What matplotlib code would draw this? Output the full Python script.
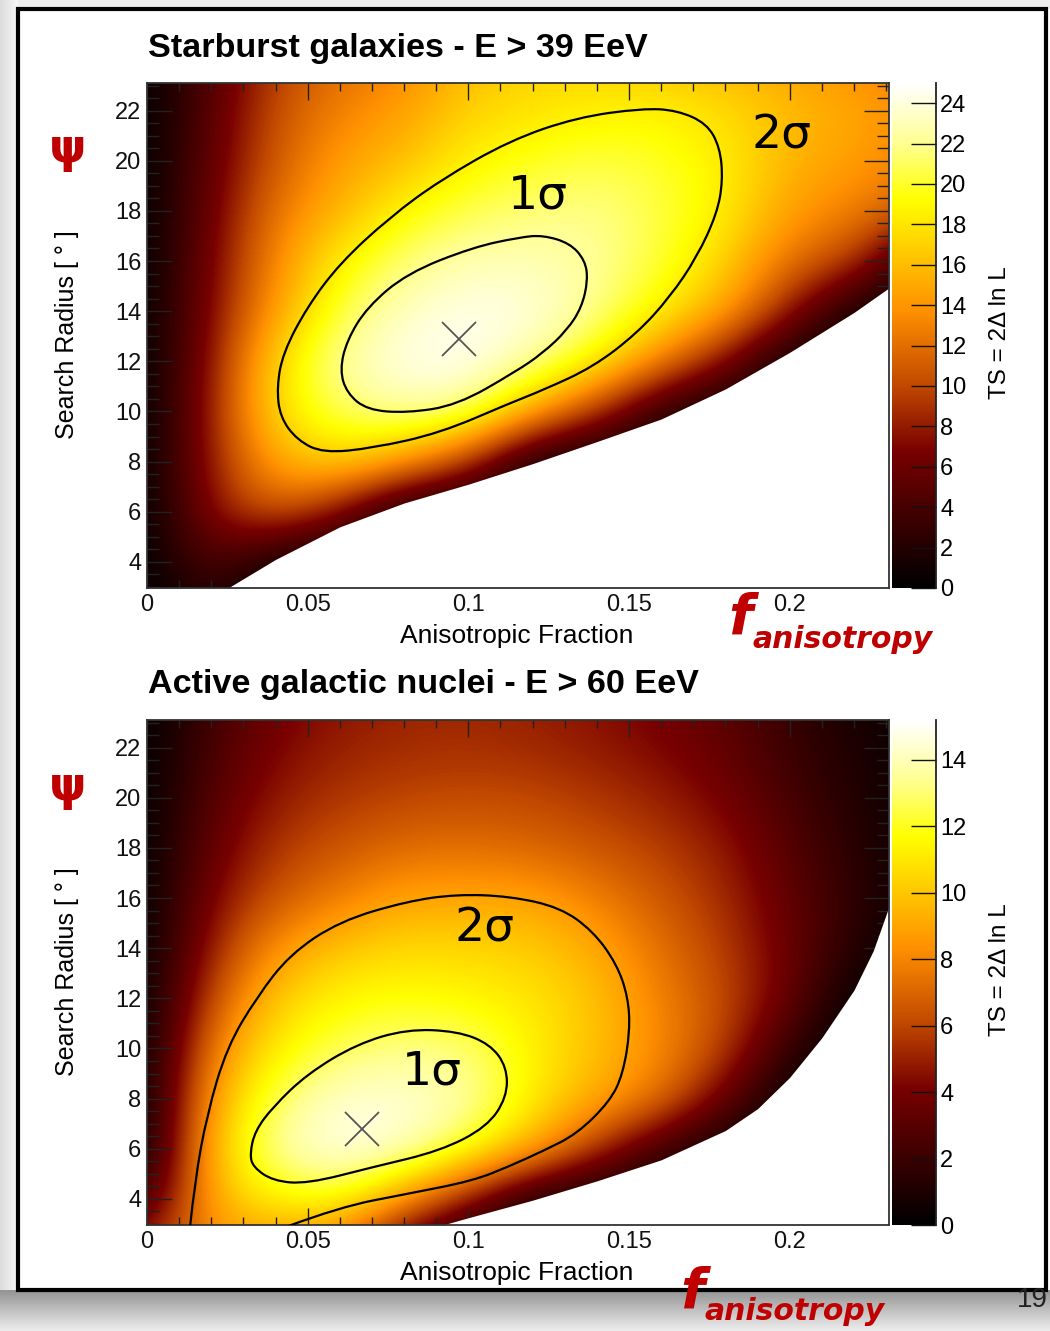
import numpy as np
import matplotlib
matplotlib.use("Agg")
import matplotlib.pyplot as plt
from matplotlib.colors import LinearSegmentedColormap, Normalize
from matplotlib.patches import Rectangle, PathPatch
from matplotlib.path import Path
from matplotlib.ticker import MultipleLocator

plt.rcParams['font.family'] = ['Liberation Sans', 'DejaVu Sans']

# TS grid: columns f, rows psi (top row = psi 24)
f_grid = [0.00, 0.02, 0.04, 0.06, 0.08, 0.10, 0.12, 0.14, 0.16, 0.18, 0.20, 0.22, 0.24]
psi_grid = [24, 22, 20, 18, 16, 14, 12, 10, 8, 6, 4, 2]

ts_sbg = [
    [0, 4.5, 9.5, 12.0, 13.0, 16.0, 17.0, 17.0, 16.0, 15.5, 14.5, 13.5, 12.5],
    [0, 5.0, 10.5, 13.0, 14.5, 17.0, 17.8, 18.5, 18.7, 17.5, 16.0, 15.0, 13.5],
    [0, 5.5, 11.0, 14.5, 16.0, 18.7, 19.8, 20.5, 20.0, 18.5, 15.5, 14.5, 13.0],
    [0, 6.0, 12.5, 15.5, 19.0, 20.7, 21.5, 22.0, 20.5, 18.5, 14.5, 13.0, 11.0],
    [0, 6.5, 13.5, 18.7, 21.5, 23.0, 23.0, 22.3, 20.3, 17.2, 12.0, 10.0, 1.0],
    [0, 7.0, 14.5, 20.5, 23.5, 24.5, 24.2, 22.0, 18.7, 15.0, 8.0, 0.5, 0],
    [0, 7.5, 17.5, 22.6, 24.5, 24.7, 22.6, 18.8, 13.0, 7.0, 0, 0, 0],
    [0, 8.0, 18.0, 21.0, 22.6, 22.0, 15.0, 9.0, 2.0, 0, 0, 0, 0],
    [0, 8.0, 15.0, 17.5, 14.5, 9.0, 0.5, 0, 0, 0, 0, 0, 0],
    [0, 7.5, 11.5, 7.0, 0, 0, 0, 0, 0, 0, 0, 0, 0],
    [0, 5.0, 0.5, 0, 0, 0, 0, 0, 0, 0, 0, 0, 0],
    [0, 2.0, 0, 0, 0, 0, 0, 0, 0, 0, 0, 0, 0],
]
ts_agn = [
    [0, 2.2, 3.8, 4.6, 5.0, 5.1, 4.9, 4.5, 3.9, 3.1, 1.8, 0.8, 0.2],
    [0, 2.5, 4.2, 5.0, 5.3, 5.4, 5.2, 4.8, 4.2, 3.4, 2.0, 1.0, 0.3],
    [0, 3.0, 4.8, 5.6, 6.0, 6.2, 6.1, 5.6, 5.0, 4.0, 2.4, 1.2, 0.3],
    [0, 3.5, 5.6, 6.5, 7.2, 7.3, 7.0, 6.5, 5.8, 4.8, 2.9, 1.4, 0.3],
    [0, 4.2, 6.5, 7.8, 9.0, 9.0, 9.0, 7.8, 6.6, 5.3, 3.3, 1.6, 0.3],
    [0, 5.0, 8.5, 10.0, 10.6, 10.5, 10.2, 9.2, 7.3, 5.8, 3.6, 1.3, 0],
    [0, 6.2, 10.2, 11.5, 11.8, 11.5, 11.0, 9.9, 7.9, 6.2, 3.6, 0, 0],
    [0, 7.8, 11.3, 12.7, 13.3, 13.1, 11.3, 9.8, 8.2, 6.0, 1.5, 0, 0],
    [0, 9.0, 12.8, 14.5, 14.5, 13.8, 11.3, 9.2, 7.6, 3.5, 0, 0, 0],
    [0, 9.8, 13.8, 15.0, 14.5, 12.3, 9.4, 5.5, 2.0, 0, 0, 0, 0],
    [2.0, 9.3, 11.5, 12.0, 8.5, 4.5, 0.5, 0, 0, 0, 0, 0, 0],
    [5.0, 8.5, 8.0, 7.0, 2.0, 0, 0, 0, 0, 0, 0, 0, 0],
]

# edge of the allowed region (below it: no value)
sbg_edge_f = [0.0252, 0.04, 0.06, 0.08, 0.10, 0.12, 0.14, 0.16, 0.18, 0.20, 0.22, 0.235]
sbg_edge_psi = [2.96, 4.1, 5.4, 6.35, 7.1, 7.92, 8.8, 9.7, 10.9, 12.36, 13.95, 15.3]
agn_edge_f = [0.092, 0.10, 0.12, 0.14, 0.16, 0.18, 0.19, 0.20, 0.21, 0.22, 0.226, 0.231, 0.235]
agn_edge_psi = [2.96, 3.25, 3.95, 4.72, 5.56, 6.73, 7.6, 8.85, 10.43, 12.33, 13.9, 15.7, 17.0]

# contours
sbg_1s_f = [0.0600, 0.0622, 0.0685, 0.0809, 0.1014, 0.1161, 0.1232, 0.1316, 0.1363, 0.1372, 0.1353,
            0.1307, 0.1232, 0.1145, 0.0965, 0.0809, 0.0685, 0.0622, 0.0600]
sbg_1s_psi = [11.65, 12.84, 14.16, 15.51, 16.55, 16.95, 17.03, 16.71, 16.03, 15.24, 14.16,
              13.24, 12.33, 11.57, 10.25, 9.94, 10.06, 10.73, 11.65]
sbg_2s_f = [0.0404, 0.0423, 0.0498, 0.0600, 0.0756, 0.0912, 0.1129, 0.1338, 0.1543, 0.1649, 0.1742,
            0.1783, 0.1792, 0.1774, 0.1711, 0.1627, 0.1525, 0.1388, 0.1232, 0.1129, 0.0912,
            0.0703, 0.0548, 0.0467, 0.0414, 0.0404]
sbg_2s_psi = [10.97, 12.33, 14.16, 15.91, 17.75, 19.22, 20.81, 21.73, 22.09, 22.01, 21.49,
              20.53, 19.22, 17.90, 16.15, 14.56, 13.12, 11.77, 10.85, 10.33, 9.14,
              8.54, 8.34, 8.86, 9.78, 10.97]
agn_1s_f = [0.0320, 0.0336, 0.0392, 0.0498, 0.0653, 0.0809, 0.0965, 0.1067, 0.1120, 0.1120,
            0.1058, 0.0912, 0.0703, 0.0498, 0.0392, 0.0330, 0.0320]
agn_1s_psi = [5.79, 6.71, 7.67, 8.98, 10.18, 10.77, 10.69, 10.18, 9.26, 8.06,
              6.87, 5.91, 5.27, 4.60, 4.72, 5.27, 5.79]
agn_2s_f = [0.0134, 0.0149, 0.0187, 0.0249, 0.0342, 0.0445, 0.0600, 0.0809, 0.0965, 0.1129, 0.1285,
            0.1388, 0.1462, 0.1497, 0.1503, 0.1481, 0.1441, 0.1338, 0.1232, 0.1129, 0.1014,
            0.0809, 0.0600, 0.0436]
agn_2s_psi = [2.9, 4.72, 7.39, 10.06, 12.05, 13.76, 15.08, 15.87, 16.15, 16.07, 15.63,
              14.68, 13.36, 12.05, 10.69, 8.98, 7.90, 6.59, 5.91, 5.31, 4.72,
              4.20, 3.68, 2.9]

sbg_best = (0.097, 12.9)
agn_best = (0.067, 6.8)
sbg_ts_max = 25.0
agn_ts_max = 15.2
sbg_cb_ticks = list(range(0, 25, 2))
agn_cb_ticks = list(range(0, 15, 2))
x_ticks = [0, 0.05, 0.1, 0.15, 0.2]
x_labels = ['0', '0.05', '0.1', '0.15', '0.2']
y_ticks = list(range(4, 23, 2))

cmap = LinearSegmentedColormap.from_list('darkbody', [
    (0.0, '#000000'), (0.27, '#780000'), (0.40, '#c04800'), (0.55, '#ff9000'),
    (0.65, '#ffc200'), (0.77, '#ffff00'), (0.88, '#ffff90'), (1.0, '#ffffff')])

W, H = 1050, 1331
RED = '#c00000'


def box(x0, y0, x1, y1):
    return [x0 / W, 1 - y1 / H, (x1 - x0) / W, (y1 - y0) / H]


def fx(px):
    return px / W


def fy(py):
    return 1 - py / H


def smooth_line(xs, ys, closed):
    # quadratic bezier through the read contour points (points act as control points)
    P = np.column_stack([xs, ys])
    if closed:
        P = P[:-1]
        mids = (P + np.roll(P, -1, axis=0)) / 2
        verts, codes = [mids[-1]], [Path.MOVETO]
        for i in range(len(P)):
            verts += [P[i], mids[i]]
            codes += [Path.CURVE3, Path.CURVE3]
    else:
        verts, codes = [P[0]], [Path.MOVETO]
        for i in range(1, len(P) - 1):
            end = P[-1] if i == len(P) - 2 else (P[i] + P[i + 1]) / 2
            verts += [P[i], end]
            codes += [Path.CURVE3, Path.CURVE3]
    return Path(verts, codes)


fig = plt.figure(figsize=(W / 100, H / 100), dpi=100)

# slide background, shadow and frame
bg = fig.add_axes([0, 0, 1, 1], zorder=-10)
bg.imshow(np.linspace(0.58, 0.93, 50)[:, None], cmap='gray', vmin=0, vmax=1,
          extent=(0, W, H, 1290), aspect='auto')
bg.imshow(np.linspace(0.86, 0.97, 20)[None, :], cmap='gray', vmin=0, vmax=1,
          extent=(0, 18, 1290, 0), aspect='auto')
bg.add_patch(Rectangle((18, 0), W, 9, color='#ededed', lw=0))
bg.add_patch(Rectangle((18, 9), 1028, 1281, fc='white', ec='black', lw=3))
bg.set_xlim(0, W); bg.set_ylim(H, 0); bg.axis('off')


def panel(top, ts, vmax, cb_ticks, edge_f, edge_psi, c1, c2, c2_closed, best, title, lab1, lab2):
    ax = fig.add_axes(box(147, top, 889, top + 505))
    df = f_grid[1] - f_grid[0]
    dp = psi_grid[0] - psi_grid[1]
    norm = Normalize(0, vmax)
    im = ax.imshow(np.array(ts), cmap=cmap, norm=norm, origin='upper', aspect='auto',
                   interpolation='bicubic', zorder=1,
                   extent=(f_grid[0] - df / 2, f_grid[-1] + df / 2,
                           psi_grid[-1] - dp / 2, psi_grid[0] + dp / 2))
    ax.fill_between(edge_f, 0, edge_psi, color='white', lw=0, zorder=2)
    for (cf, cp), closed in [(c1, True), (c2, c2_closed)]:
        ax.add_patch(PathPatch(smooth_line(cf, cp, closed), fill=False, ec='black',
                               lw=1.6, zorder=3))
    ax.plot(best[0], best[1], marker='x', ms=24, mew=1.3, color='#555555', zorder=4)
    ax.set_xlim(0, 0.2309)
    ax.set_ylim(2.96, 23.1)
    ax.set_xticks(x_ticks, x_labels)
    ax.set_yticks(y_ticks)
    ax.xaxis.set_minor_locator(MultipleLocator(0.01))
    ax.yaxis.set_minor_locator(MultipleLocator(0.5))
    ax.tick_params(which='both', direction='in', top=True, right=True, color='#222222',
                   width=1.0, labelsize=17, labelcolor='#111111')
    ax.tick_params(axis='x', which='major', length=12, pad=4)
    ax.tick_params(axis='x', which='minor', length=6)
    ax.tick_params(axis='y', which='major', length=18, pad=4)
    ax.tick_params(axis='y', which='minor', length=8.5)
    for s in ax.spines.values():
        s.set_color('#333333'); s.set_linewidth(1.3)
    ax.text(lab2[0], lab2[1], '2σ', fontsize=34, family='DejaVu Sans', ha='center', va='center', zorder=5)
    ax.text(lab1[0], lab1[1], '1σ', fontsize=34, family='DejaVu Sans', ha='center', va='center', zorder=5)

    cax = fig.add_axes(box(892, top, 936, top + 505))
    cb = fig.colorbar(im, cax=cax, ticks=cb_ticks)
    cb.outline.set_visible(False)
    cax.plot([1, 1], [0, 1], transform=cax.transAxes, color='#222222', lw=1.3, clip_on=False)
    cax.tick_params(direction='in', length=18, width=1.0, labelsize=17, pad=3, color='#111111')
    cax.set_ylim(0, vmax)

    fig.text(fx(148), fy(top - 35), title, fontsize=24.6, fontweight='bold', ha='left', va='center')
    fig.text(fx(517), fy(top + 553), 'Anisotropic Fraction', fontsize=19, ha='center', va='center')
    fig.text(fx(67), fy(top + 252), 'Search Radius [ ° ]', fontsize=18, rotation=90,
             ha='center', va='center')
    fig.text(fx(1000), fy(top + 250), 'TS = 2Δ ln L', fontsize=17.5, rotation=90,
             ha='center', va='center')
    fig.text(fx(68), fy(top + 67), 'ψ', fontsize=34, fontweight='bold', color=RED,
             family='DejaVu Sans', ha='center', va='center')


panel(83, ts_sbg, sbg_ts_max, sbg_cb_ticks, sbg_edge_f, sbg_edge_psi,
      (sbg_1s_f, sbg_1s_psi), (sbg_2s_f, sbg_2s_psi), True, sbg_best,
      'Starburst galaxies - E > 39 EeV', (0.1217, 18.6), (0.1976, 21.0))
panel(720, ts_agn, agn_ts_max, agn_cb_ticks, agn_edge_f, agn_edge_psi,
      (agn_1s_f, agn_1s_psi), (agn_2s_f, agn_2s_psi), False, agn_best,
      'Active galactic nuclei - E > 60 EeV', (0.0887, 9.06), (0.1049, 14.76))

# f_anisotropy annotations
for xf, yb, xs, ys in [(728, 634, 752, 648), (680, 1308, 704, 1320)]:
    fig.text(fx(xf), fy(yb), 'f', fontsize=40, fontweight='bold', style='italic', color=RED,
             family='DejaVu Sans', ha='left', va='baseline')
    fig.text(fx(xs), fy(ys), 'anisotropy', fontsize=21.5, fontweight='bold', style='italic',
             color=RED, family='DejaVu Sans', ha='left', va='baseline')

fig.text(fx(1017), fy(1300), '19', fontsize=20, color='#222222', ha='left', va='center')

fig.savefig('out.png', dpi=100)
